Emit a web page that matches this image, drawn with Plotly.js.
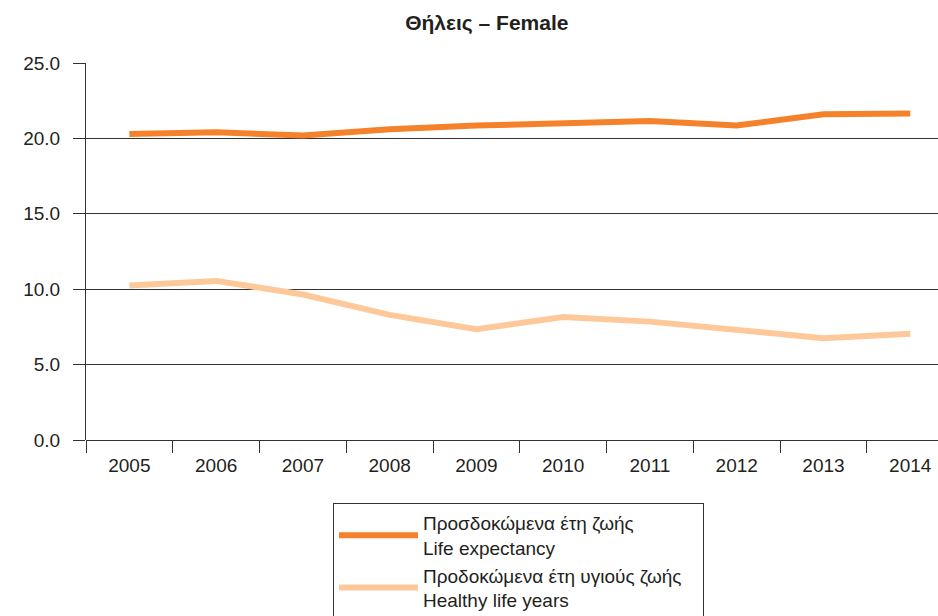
<!DOCTYPE html>
<html>
<head>
<meta charset="utf-8">
<script src="https://cdn.plot.ly/plotly-3.0.1.min.js"></script>
<style>html,body{margin:0;padding:0;background:#fff;}#chart{width:938px;height:616px;}</style>
</head>
<body>
<div id="chart"></div>
<script>
const years = ["2005","2006","2007","2008","2009","2010","2011","2012","2013","2014"];
const lifeExpectancy = [20.3, 20.4, 20.2, 20.6, 20.85, 20.95, 21.15, 20.85, 21.6, 21.65];
const healthyLifeYears = [10.25, 10.55, 9.65, 8.3, 7.35, 8.15, 7.85, 7.3, 6.75, 7.05];
const seriesNames = [
  "Προσδοκώμενα έτη ζωής<br>Life expectancy",
  "Προδοκώμενα έτη υγιούς ζωής<br>Healthy life years"
];
const yTicks = [0, 5, 10, 15, 20, 25];
const titleText = "<b>Θήλεις – Female</b>";

const textColor = "#231f20";
const fontFam = "Liberation Sans, Arial, sans-serif";
const legendPad = "\u00a0\u00a0\u00a0";
const data = [
  {x: years, y: lifeExpectancy, type: "scatter", mode: "lines", name: seriesNames[0],
   line: {color: "#f5822a", width: 6}},
  {x: years, y: healthyLifeYears, type: "scatter", mode: "lines",
   name: seriesNames[1].replace("<br>", legendPad + "<br>"),
   line: {color: "#fdc99a", width: 6}}
];
const layout = {
  width: 938, height: 616,
  paper_bgcolor: "#fff", plot_bgcolor: "#fff",
  font: {family: fontFam, size: 19, color: textColor},
  margin: {l: 86, r: 0, t: 63, b: 176},
  title: {text: titleText, x: 0.519, xanchor: "center", y: 0.964, yanchor: "middle",
          xref: "container", yref: "container",
          font: {family: fontFam, size: 21, color: textColor}},
  xaxis: {type: "category", categoryorder: "array", categoryarray: years,
          range: [-0.5, 9.32], tickson: "boundaries", ticks: "outside", ticklen: 12,
          tickcolor: "#333", tickwidth: 1, showgrid: false, showline: false, zeroline: false,
          tickangle: 0, ticklabelstandoff: 12, fixedrange: true},
  yaxis: {range: [0, 25], tickvals: yTicks, tickformat: ".1f", ticks: "outside", ticklen: 12,
          tickcolor: "#333", tickwidth: 1, showgrid: true, gridcolor: "#333", gridwidth: 1,
          showline: true, linecolor: "#333", linewidth: 1, zeroline: true, zerolinecolor: "#333",
          zerolinewidth: 1, ticklabelstandoff: 9, fixedrange: true},
  showlegend: true,
  legend: {xref: "paper", yref: "container", x: (333 - 86) / 852, xanchor: "left",
           y: 1 - 503 / 616, yanchor: "top", bordercolor: "#333", borderwidth: 1,
           bgcolor: "#fff", itemwidth: 79,
           font: {family: fontFam, size: 19, color: textColor},
           tracegroupgap: 0}
};
Plotly.newPlot("chart", data, layout, {displayModeBar: false, staticPlot: true});
</script>
</body>
</html>
